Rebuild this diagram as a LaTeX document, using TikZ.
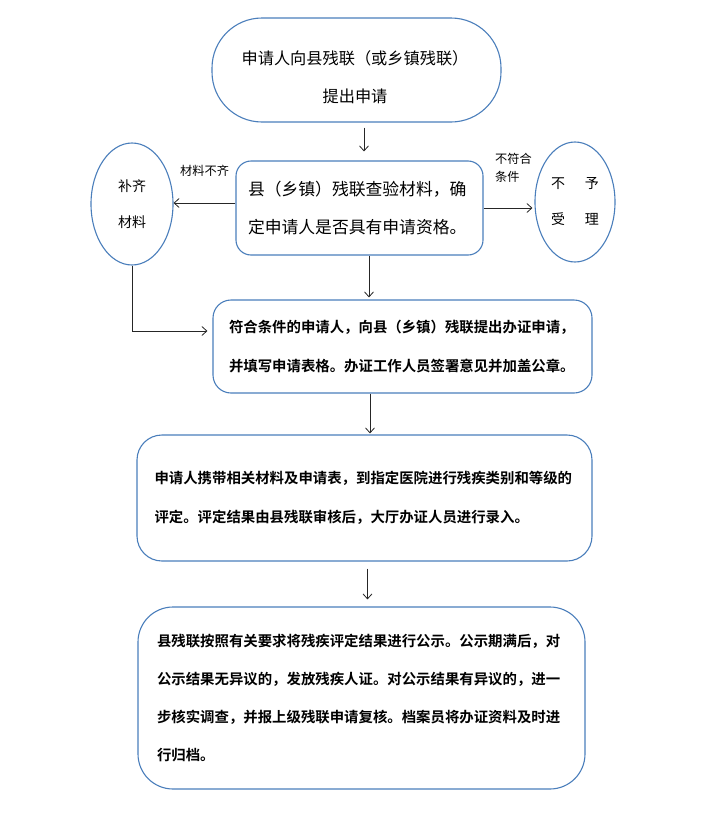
\documentclass[tikz,border=0pt]{standalone}
\usepackage{fontspec}
\setmainfont{Noto Sans CJK SC}[BoldFont={Noto Sans CJK SC Bold}]
\usetikzlibrary{arrows.meta,shapes.geometric}
\definecolor{bord}{HTML}{4A7EBB}
\tikzset{
  boxbase/.style={draw=bord, line width=1.1pt, rectangle, inner sep=0pt, text=black},
  stad/.style={boxbase, rounded corners=50pt, minimum width=289pt, minimum height=104pt},
  stadtext/.style={inner sep=0pt, align=center, font=\fontsize{16.2}{38}\selectfont},
  regbox/.style={boxbase, rounded corners=15pt, align=left},
  boldbox/.style={boxbase, align=left, font=\bfseries\fontsize{14.4}{38.5}\selectfont},
  oval/.style={draw=bord, line width=1.1pt, ellipse, inner sep=0pt, align=center,
     font=\fontsize{14}{36}\selectfont},
  lab/.style={inner sep=0pt, align=left, font=\fontsize{12.2}{18}\selectfont},
  arr/.style={draw=black!85, line width=0.8pt, -{Straight Barb[length=5pt,width=9pt]}}
}
\begin{document}
\begin{tikzpicture}[x=1pt,y=-1pt]
\useasboundingbox (0,0) rectangle (710,822);
\node[stad] (b1) at (356.5,70) {};
\node[stadtext] (t1) at (355,77.5) {申请人向县残联（或乡镇残联）\\提出申请};
\node[regbox, minimum width=247pt, minimum height=94pt, text width=223pt,
      font=\fontsize{16.8}{38}\selectfont] (b2) at (359.5,208)
      {县（乡镇）残联查验材料，确\\定申请人是否具有申请资格。};
\node[oval, minimum width=82pt, minimum height=122pt] (e1) at (132,204) {补齐\\材料};
\node[oval, minimum width=80pt, minimum height=120pt] (e2) at (575,202) {不\hspace{20pt}予\\受\hspace{20pt}理};
\node[lab, anchor=west] (l1) at (180,171) {材料不齐};
\node[lab, anchor=west] (l2) at (495,168) {不符合\\条件};
\node[boldbox, rounded corners=18pt, minimum width=379pt, minimum height=93pt, text width=347pt] (b3) at (402.5,346.5)
  {符合条件的申请人，向县（乡镇）残联提出办证申请，\\并填写申请表格。办证工作人员签署意见并加盖公章。};
\node[boldbox, rounded corners=25pt, minimum width=455pt, minimum height=126pt, text width=420pt] (b4) at (364.5,498)
  {申请人携带相关材料及申请表，到指定医院进行残疾类别和等级的\\评定。评定结果由县残联审核后，大厅办证人员进行录入。};
\node[boldbox, rounded corners=35pt, minimum width=447pt, minimum height=182pt, text width=409pt,
      font=\bfseries\fontsize{14.4}{37.7}\selectfont] (b5) at (361.5,698)
  {县残联按照有关要求将残疾评定结果进行公示。公示期满后，对\\公示结果无异议的，发放残疾人证。对公示结果有异议的，进一\\步核实调查，并报上级残联申请复核。档案员将办证资料及时进\\行归档。};
% connectors
\draw[arr, shorten <=5pt, shorten >=9pt] ([xshift=7.5pt]b1.south) -- ([xshift=4.5pt]b2.north);
\draw[arr] ([yshift=5pt]b2.west) -- ([yshift=5pt]b2.west -| e1.east);
\draw[arr, shorten >=2pt] (b2.east) -- (b2.east -| e2.west);
\draw[arr, shorten >=2pt] ([xshift=9.5pt]b2.south) -- ([xshift=9.5pt]b2.south |- b3.north);
\draw[arr, shorten >=5pt] (e1.south) |- ([yshift=15.5pt]b3.west);
\draw[arr, shorten >=1pt] ([xshift=-32.5pt]b3.south) -- ([xshift=-32.5pt]b3.south |- b4.north);
\draw[arr, shorten <=7pt, shorten >=7pt] ([xshift=3pt]b4.south) -- ([xshift=3pt]b4.south |- b5.north);
\end{tikzpicture}
\end{document}
